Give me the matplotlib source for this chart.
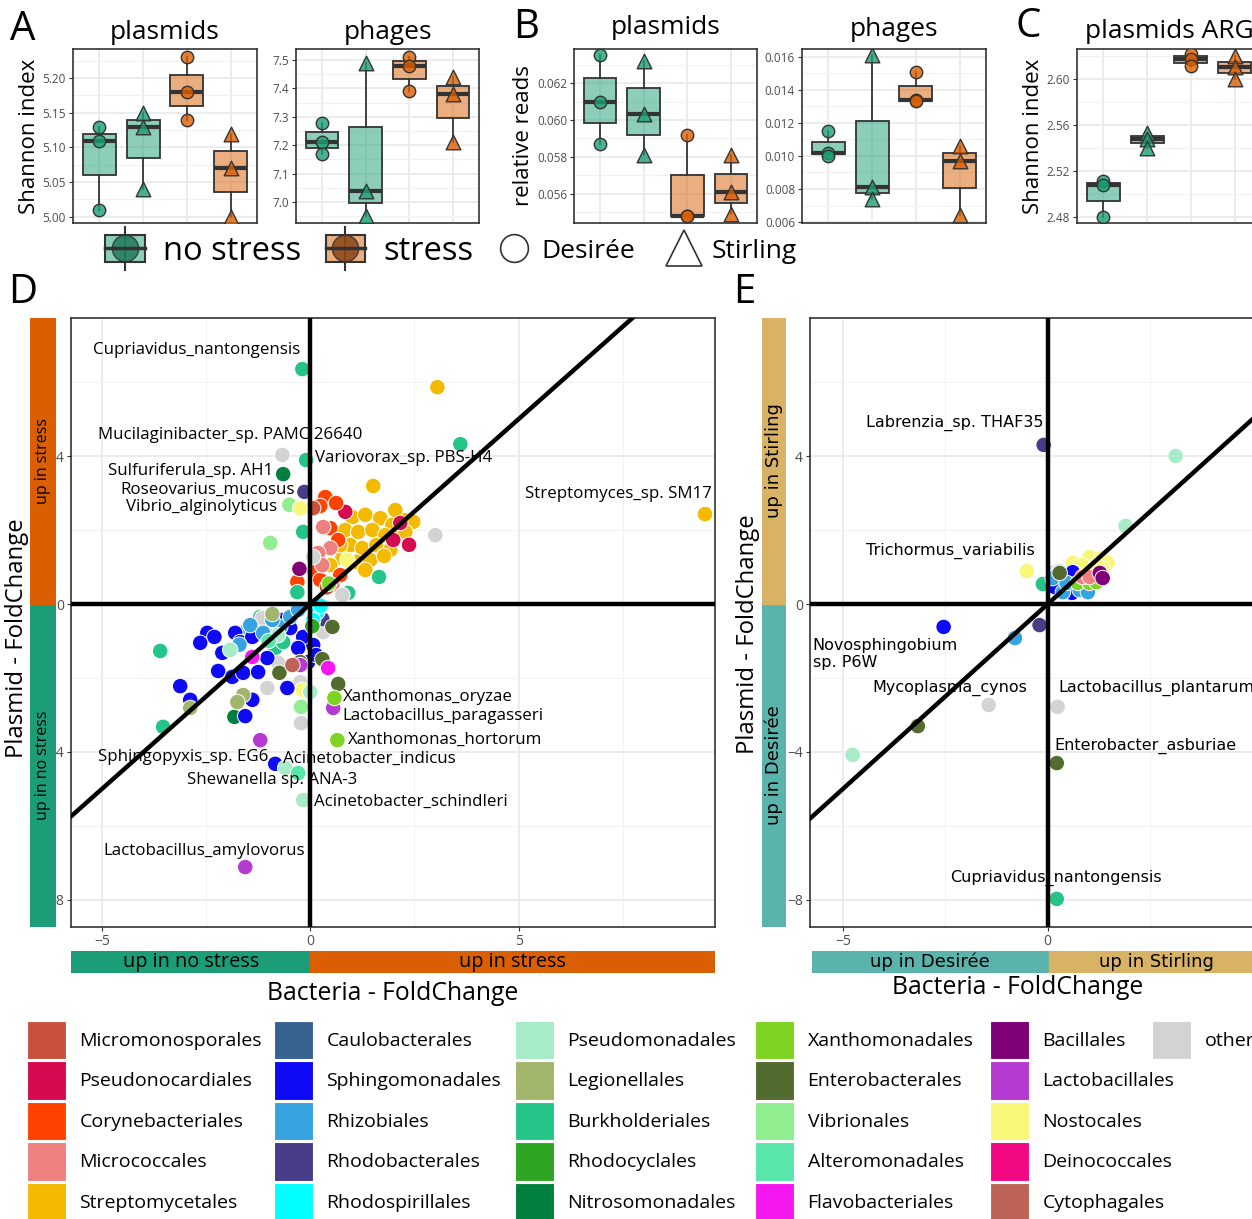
import matplotlib
matplotlib.use("Agg")
import matplotlib.pyplot as plt
from matplotlib.colors import to_rgba
from matplotlib.lines import Line2D
from matplotlib.patches import Patch, Rectangle
from matplotlib.legend_handler import HandlerBase
from matplotlib.ticker import MultipleLocator, FormatStrFormatter, FixedLocator

plt.rcParams["font.family"] = ["Open Sans", "DejaVu Sans"]

# ---------------- panels A-C : three samples per group ----------------
group_pos = [1, 2, 3, 4]
group_treat = ["no stress", "no stress", "stress", "stress"]
group_cultivar = ["Desirée", "Stirling", "Desirée", "Stirling"]

a_plasmids = [[5.13, 5.11, 5.01], [5.15, 5.13, 5.04], [5.23, 5.18, 5.14], [5.12, 5.07, 5.00]]
a_phages = [[7.28, 7.21, 7.17], [7.49, 7.04, 6.95], [7.51, 7.48, 7.39], [7.44, 7.38, 7.21]]
b_plasmids = [[0.0635, 0.0610, 0.0587], [0.0632, 0.0603, 0.0581],
              [0.0592, 0.0548, 0.0548], [0.0581, 0.0561, 0.0549]]
b_phages = [[0.0115, 0.0102, 0.0100], [0.0161, 0.0081, 0.0074],
            [0.0151, 0.0134, 0.0133], [0.0106, 0.0097, 0.0064]]
c_plasmids_arg = [[2.511, 2.508, 2.480], [2.553, 2.548, 2.540],
                  [2.622, 2.617, 2.611], [2.620, 2.610, 2.600]]

# ---------------- bacterial orders ----------------
order_names = [
    "Micromonosporales", "Pseudonocardiales", "Corynebacteriales", "Micrococcales", "Streptomycetales",
    "Caulobacterales", "Sphingomonadales", "Rhizobiales", "Rhodobacterales", "Rhodospirillales",
    "Pseudomonadales", "Legionellales", "Burkholderiales", "Rhodocyclales", "Nitrosomonadales",
    "Xanthomonadales", "Enterobacterales", "Vibrionales", "Alteromonadales", "Flavobacteriales",
    "Bacillales", "Lactobacillales", "Nostocales", "Deinococcales", "Cytophagales",
    "other",
]
order_colors = [
    "#C8513D", "#D50B52", "#FF4200", "#EF8080", "#F4BA00",
    "#376290", "#0F0AF5", "#36A2E0", "#473D88", "#00FFFF",
    "#A7EBC8", "#A2B56D", "#25C488", "#2FA524", "#007F3E",
    "#7ED323", "#526B2F", "#91EE90", "#58E6AA", "#F417F0",
    "#800078", "#B53AD1", "#F8F77A", "#F30883", "#BD6457",
    "#D3D3D3",
]

# ---------------- panel D : stress vs no stress ----------------
d_order = (["Streptomycetales"] * 27 + ["Pseudonocardiales"] * 4 + ["Corynebacteriales"] * 9
           + ["Micrococcales"] * 5 + ["Micromonosporales"] * 2 + ["Bacillales"] * 1
           + ["Burkholderiales"] * 13 + ["other"] * 10 + ["Nitrosomonadales"] * 2
           + ["Rhodobacterales"] * 2 + ["Vibrionales"] * 3 + ["Nostocales"] * 3
           + ["Rhodospirillales"] * 3 + ["Sphingomonadales"] * 26 + ["Rhizobiales"] * 7
           + ["Pseudomonadales"] * 5 + ["Alteromonadales"] * 2 + ["Legionellales"] * 4
           + ["Enterobacterales"] * 5 + ["Flavobacteriales"] * 2 + ["Lactobacillales"] * 4
           + ["Xanthomonadales"] * 3 + ["Cytophagales"] * 1 + ["Rhodocyclales"] * 1)
d_bact = [
    3.05, 1.51, 9.47, 1.01, 1.32, 1.68, 1.97, 2.25, 2.47, 0.84, 1.15, 1.49, 1.80, 2.11,
    0.96, 1.25, 1.58, 1.92, 2.28, 0.77, 1.10, 1.44, 1.77, 1.32, 0.72, 2.04, 0.48,
    0.84, 2.16, 2.37, 1.99,
    0.36, 0.62, 0.24, 0.48, 0.67, -0.31, 0.72, 0.10, 0.24,
    0.31, 0.48, 0.19, 0.29, 0.53,
    0.07, 0.40,
    -0.26,
    -0.19, 3.60, -0.10, -0.17, 1.65, -0.31, 0.91, -3.60, -3.53, -1.49, -0.84, -1.20, -0.65,
    -0.67, 3.00, 0.07, 0.77, -1.03, -0.77, -0.22, -0.24, 0.31, -1.15,
    -0.65, -1.82,
    -0.14, 0.29,
    -0.50, -0.96, -0.22,
    -0.24, -0.19, 0.89,
    0.17, 0.07, 0.25,
    -2.47, -2.30, -2.64, -2.11, -1.80, -1.68, -1.39, -3.12, -2.88, -2.21, -1.87, -1.61, -1.25,
    -1.39, -1.56, -0.55, 0.07, -0.05, -0.91, -1.03, -0.17, 0.14, -0.84, -0.48, -0.29, -0.72,
    -1.44, -1.13, -0.72, -0.48, -0.91, -0.29, -1.70,
    -1.92, -0.77, -0.60, -0.17, 0.00,
    -0.29, -1.00,
    -0.91, -1.61, -1.75, -2.88,
    0.67, 0.29, 0.53, -0.74, -0.24,
    0.43, -1.39,
    -1.56, -1.20, 0.55, -0.24,
    0.58, 0.65, 0.45,
    -0.43,
    0.05,
]
d_plasmid = [
    5.86, 3.19, 2.43, 2.35, 2.41, 2.32, 2.14, 2.27, 2.22, 2.00, 1.95, 2.00, 1.86, 1.81,
    1.59, 1.51, 1.59, 1.46, 1.95, 1.24, 1.14, 1.19, 1.30, 0.92, 1.59, 2.54, 1.05,
    2.49, 2.19, 1.60, 1.73,
    2.89, 2.73, 2.65, 2.05, 1.73, 0.60, 0.78, 0.92, 0.65,
    2.08, 1.51, 1.38, 1.05, 0.51,
    2.59, 0.45,
    0.95,
    6.35, 4.32, 3.89, 1.95, 0.73, 0.32, 0.30, -1.27, -3.32, -0.65, -1.19, -0.35, -1.03,
    4.03, 1.86, 1.27, 0.24, -2.27, -1.59, -3.22, -2.11, -0.76, -0.38,
    3.51, -3.05,
    3.03, -0.41,
    2.68, 1.65, -2.78,
    2.59, -2.32, 1.19,
    -0.22, -0.43, -0.05,
    -0.78, -0.89, -1.05, -1.32, -0.78, -1.03, -0.89, -2.22, -2.59, -1.81, -1.97, -1.86, -1.84,
    -2.59, -3.03, -2.27, -1.11, -1.57, -0.89, -1.46, -0.89, -1.38, -4.32, -0.65, -1.19, -0.43,
    -0.57, -0.78, -0.62, -0.35, -0.43, -0.16, -1.10,
    -1.24, -0.84, -4.43, -5.30, -2.38,
    -4.57, -1.00,
    -0.27, -2.46, -2.65, -2.81,
    -2.16, -1.49, -0.62, -1.86, -1.57,
    -1.73, -1.43,
    -7.11, -3.68, -2.81, -1.65,
    -2.54, -3.68, 0.55,
    -1.65,
    -0.60,
]
d_labels = ["Cupriavidus_nantongensis", "Mucilaginibacter_sp. PAMC 26640", "Variovorax_sp. PBS-H4",
            "Sulfuriferula_sp. AH1", "Roseovarius_mucosus", "Vibrio_alginolyticus",
            "Streptomyces_sp. SM17", "Xanthomonas_oryzae", "Lactobacillus_paragasseri",
            "Xanthomonas_hortorum", "Sphingopyxis_sp. EG6", "Acinetobacter_indicus",
            "Shewanella sp. ANA-3", "Acinetobacter_schindleri", "Lactobacillus_amylovorus"]
d_label_x = [-0.24, 1.25, 0.12, -0.89, -0.36, -0.79, 9.64, 0.79, 0.77, 0.91, -1.01, -0.65, -2.95, 0.10, -0.12]
d_label_y = [6.86, 4.57, 3.95, 3.59, 3.08, 2.62, 2.97, -2.51, -3.03, -3.68, -4.14, -4.19, -4.76, -5.35, -6.68]
d_label_ha = ["right", "right", "left", "right", "right", "right", "right", "left", "left",
              "left", "right", "left", "left", "left", "right"]

# ---------------- panel E : Stirling vs Desirée ----------------
e_order = (["Rhodobacterales"] * 2 + ["Pseudomonadales"] * 3 + ["Nostocales"] * 8
           + ["Burkholderiales"] * 2 + ["other"] * 5 + ["Sphingomonadales"] * 4
           + ["Rhizobiales"] * 6 + ["Xanthomonadales"] * 3 + ["Micrococcales"] * 2
           + ["Bacillales"] * 2 + ["Enterobacterales"] * 3)
e_bact = [-0.10, -0.20,
          3.12, 1.90, -4.76,
          -0.51, 0.61, 1.02, 1.32, 1.46, 1.34, 0.83, 1.19,
          -0.12, 0.22,
          0.17, 0.29, 0.41, -1.44, 0.24,
          0.17, 0.59, 0.61, -2.54,
          0.12, 0.37, 0.78, 0.98, 0.46, -0.80,
          0.73, 1.02, 1.19,
          0.85, 1.02,
          1.27, 1.34,
          0.29, -3.17, 0.22]
e_plasmid = [4.30, -0.57,
             4.00, 2.11, -4.08,
             0.89, 1.11, 1.27, 1.24, 1.11, 0.97, 1.05, 1.05,
             0.54, -7.97,
             0.86, 0.89, 0.76, -2.73, -2.78,
             0.46, 0.30, 0.86, -0.62,
             0.70, 0.32, 0.38, 0.32, 0.57, -0.92,
             0.57, 0.57, 0.59,
             0.73, 0.73,
             0.84, 0.70,
             0.84, -3.30, -4.30]
e_labels = ["Labrenzia_sp. THAF35", "Trichormus_variabilis", "Novosphingobium\nsp. P6W",
            "Mycoplasma_cynos", "Lactobacillus_plantarum", "Enterobacter_asburiae",
            "Cupriavidus_nantongensis"]
e_label_x = [-0.10, -0.32, -5.73, -0.49, 0.27, 0.17, -2.37]
e_label_y = [4.89, 1.43, -1.35, -2.27, -2.27, -3.84, -7.41]
e_label_ha = ["right", "right", "left", "right", "left", "left", "left"]

# ---------------- styling ----------------
W, H = 1252, 1219
TEAL, ORANGE = "#1b9e77", "#d95f02"
DES, STIR = "#5AB4AC", "#D8B365"
DARK = "#333333"
GRID = "#EBEBEB"
color_of = dict(zip(order_names, order_colors))

fig = plt.figure(figsize=(W / 100, H / 100), dpi=100)


def px_axes(l, t, r, b):
    return fig.add_axes([l / W, 1 - b / H, (r - l) / W, (b - t) / H])


def box_panel(ax, values, ylim, major, fmt, title, ylabel=None, title_pad=6):
    bp = ax.boxplot(values, positions=group_pos, widths=0.75, patch_artist=True,
                    showfliers=False, showcaps=False,
                    boxprops=dict(edgecolor=DARK, linewidth=1.3),
                    whiskerprops=dict(color=DARK, linewidth=1.3),
                    medianprops=dict(color=DARK, linewidth=3.0), zorder=2)
    for patch, treat in zip(bp["boxes"], group_treat):
        patch.set_facecolor(to_rgba(TEAL if treat == "no stress" else ORANGE, 0.5))
    for pos, vals, treat, cult in zip(group_pos, values, group_treat, group_cultivar):
        col = TEAL if treat == "no stress" else ORANGE
        ax.scatter([pos] * len(vals), vals, marker="o" if cult == "Desirée" else "^",
                   s=80 if cult == "Desirée" else 110, facecolor=to_rgba(col, 0.8),
                   edgecolor=DARK, linewidth=1.0, zorder=3)
    ax.set_xlim(0.4, 4.6)
    ax.set_ylim(*ylim)
    ax.set_xticks(group_pos)
    ax.set_xticklabels([])
    ax.tick_params(axis="x", length=0)
    ax.yaxis.set_major_locator(MultipleLocator(major))
    ax.yaxis.set_minor_locator(MultipleLocator(major / 2))
    ax.yaxis.set_major_formatter(FormatStrFormatter(fmt))
    ax.tick_params(axis="y", which="major", length=3, color=DARK, labelsize=8.5,
                   labelcolor="#4D4D4D", pad=2)
    ax.tick_params(axis="y", which="minor", length=0)
    ax.grid(which="major", color=GRID, linewidth=1.3)
    ax.grid(which="minor", axis="y", color="#F2F2F2", linewidth=0.8)
    ax.set_axisbelow(True)
    for s in ax.spines.values():
        s.set_color(DARK)
        s.set_linewidth(1.2)
    ax.set_title(title, fontsize=19, pad=title_pad)
    if ylabel:
        ax.set_ylabel(ylabel, fontsize=16, labelpad=2)


box_panel(px_axes(73, 49, 257, 223), a_plasmids, (4.991, 5.242), 0.05, "%.2f", "plasmids", "Shannon index", 7)
box_panel(px_axes(296, 49, 479, 223), a_phages, (6.926, 7.539), 0.1, "%.1f", "phages", None, 7)
box_panel(px_axes(574, 49, 757, 223), b_plasmids, (0.05443, 0.06384), 0.002, "%.3f", "plasmids", "relative reads", 11)
box_panel(px_axes(802, 49, 986, 223), b_phages, (0.00594, 0.01648), 0.002, "%.3f", "phages", None, 9)
box_panel(px_axes(1077, 49, 1261, 223), c_plasmids_arg, (2.4748, 2.626), 0.04, "%.2f", "plasmids ARG", "Shannon index", 8)


# legend keys for the treatment boxes
class BoxKey(HandlerBase):
    def __init__(self, face, dot):
        super().__init__()
        self.face, self.dot = face, dot

    def create_artists(self, legend, orig_handle, xdescent, ydescent, width, height, fontsize, trans):
        x0, y0 = -xdescent, -ydescent
        cx = x0 + width / 2
        whisk = Line2D([cx, cx], [y0 - 0.3 * height, y0 + 1.3 * height], color=DARK, lw=1.5, transform=trans)
        box = Rectangle((x0, y0), width, height, facecolor=self.face, edgecolor=DARK, lw=1.5, transform=trans)
        dot = Line2D([cx], [y0 + height / 2], marker="o", ms=19, mfc=self.dot, mec=DARK, alpha=0.85,
                     ls="", transform=trans)
        med = Line2D([x0, x0 + width], [y0 + height / 2] * 2, color=DARK, lw=2.5, transform=trans)
        return [whisk, box, dot, med]


h_no, h_st = Patch(), Patch()
fig.legend([h_no, h_st], ["no stress", "stress"],
           handler_map={h_no: BoxKey(to_rgba(TEAL, 0.5), "#1f7a5c"), h_st: BoxKey(to_rgba(ORANGE, 0.5), "#8a4416")},
           loc="center left", bbox_to_anchor=(105 / W, 1 - 251 / H), ncol=2, fontsize=23.5, frameon=False,
           handlelength=1.22, handleheight=0.9, handletextpad=0.55, columnspacing=0.75,
           borderpad=0, borderaxespad=0)
fig.legend([Line2D([], [], ls="", marker="o", ms=20, mfc="white", mec=DARK, mew=1.2),
            Line2D([], [], ls="", marker="^", ms=26, mfc="white", mec=DARK, mew=1.2)],
           ["Desirée", "Stirling"], loc="center left", bbox_to_anchor=(499 / W, 1 - 251 / H), ncol=2,
           fontsize=19, frameon=False, handlelength=1.1, handletextpad=0.5, columnspacing=1.3,
           borderpad=0, borderaxespad=0)


# ---------------- scatter panels ----------------
def scatter_panel(ax, bx, py, orders, xlim, ylim, labels, lx, ly, lha, label_font, label_size):
    ax.scatter(bx, py, s=125, c=[color_of[o] for o in orders], edgecolors="white",
               linewidths=0.7, zorder=3)
    for t, x, y, ha in zip(labels, lx, ly, lha):
        ax.text(x, y, t, ha=ha, va="center", fontsize=label_size, family=label_font, zorder=4)
    ax.axhline(0, color="black", lw=3.2, zorder=5)
    ax.axvline(0, color="black", lw=3.2, zorder=5)
    ax.axline((0, 0), slope=1, color="black", lw=3.2, zorder=5)
    ax.set_xlim(*xlim)
    ax.set_ylim(*ylim)
    ax.xaxis.set_major_locator(MultipleLocator(5))
    ax.xaxis.set_minor_locator(MultipleLocator(2.5))
    ax.yaxis.set_major_locator(MultipleLocator(4))
    ax.yaxis.set_minor_locator(MultipleLocator(2))
    ax.grid(which="major", color=GRID, linewidth=1.3)
    ax.grid(which="minor", color="#F2F2F2", linewidth=0.8)
    ax.set_axisbelow(True)
    ax.tick_params(which="major", length=3, color=DARK, labelsize=10, labelcolor="#4D4D4D", pad=2)
    ax.tick_params(which="minor", length=0)
    for s in ax.spines.values():
        s.set_color(DARK)
        s.set_linewidth(1.2)


def strips(yrect, xrect, xlim, ylim, low_col, high_col, low_txt, high_txt, font, ysize, xsize):
    ys = px_axes(*yrect)
    ys.set_ylim(*ylim)
    ys.axhspan(ylim[0], 0, color=low_col)
    ys.axhspan(0, ylim[1], color=high_col)
    ys.text(0.5, ylim[1] / 2, high_txt, rotation=90, ha="center", va="center", fontsize=ysize,
            family=font, transform=ys.get_yaxis_transform())
    ys.text(0.5, ylim[0] / 2, low_txt, rotation=90, ha="center", va="center", fontsize=ysize,
            family=font, transform=ys.get_yaxis_transform())
    ys.axis("off")
    xs = px_axes(*xrect)
    xs.set_xlim(*xlim)
    xs.axvspan(xlim[0], 0, color=low_col)
    xs.axvspan(0, xlim[1], color=high_col)
    xs.text(xlim[0] / 2, 0.5, low_txt, ha="center", va="center", fontsize=xsize, family=font,
            transform=xs.get_xaxis_transform())
    xs.text(xlim[1] / 2, 0.5, high_txt, ha="center", va="center", fontsize=xsize, family=font,
            transform=xs.get_xaxis_transform())
    xs.axis("off")


d_xlim, d_ylim = (-5.74, 9.71), (-8.73, 7.73)
e_xlim = (-5.8, 5.3)

axd = px_axes(71, 318, 715, 927)
scatter_panel(axd, d_bact, d_plasmid, d_order, d_xlim, d_ylim,
              d_labels, d_label_x, d_label_y, d_label_ha, ["Open Sans", "DejaVu Sans"], 12.2)
strips((30, 318, 56, 927), (71, 951, 715, 973), d_xlim, d_ylim, TEAL, ORANGE,
       "up in no stress", "up in stress", ["Open Sans", "DejaVu Sans"], 11.5, 14.3)

axe = px_axes(810, 318, 1265, 927)
scatter_panel(axe, e_bact, e_plasmid, e_order, e_xlim, d_ylim,
              e_labels, e_label_x, e_label_y, e_label_ha, ["DejaVu Sans"], 11.5)
axe.xaxis.set_major_locator(FixedLocator([-5, 0]))
strips((762, 318, 786, 927), (812, 951, 1265, 973), e_xlim, d_ylim, DES, STIR,
       "up in Desirée", "up in Stirling", ["DejaVu Sans"], 13, 13)

# axis titles
fig.text(393 / W, 1 - 993 / H, "Bacteria - FoldChange", ha="center", va="center", fontsize=17.8)
fig.text(17 / W, 1 - 638 / H, "Plasmid - FoldChange", ha="center", va="center", fontsize=17.2, rotation=90)
fig.text(1018 / W, 1 - 988 / H, "Bacteria - FoldChange", ha="center", va="center", fontsize=17.8)
fig.text(748 / W, 1 - 634 / H, "Plasmid - FoldChange", ha="center", va="center", fontsize=17.2, rotation=90)

# panel letters
for letter, lx, ly in [("A", 10, 30), ("B", 513, 28), ("C", 1016, 27), ("D", 8, 293), ("E", 733, 293)]:
    fig.text(lx / W, 1 - ly / H, letter, ha="left", va="center", fontsize=29)

# ---------------- order legend, one column per fig.legend ----------------
col_x = [27, 274, 515, 755, 990, 1152]
for c, x in enumerate(col_x):
    names = order_names[c * 5:(c + 1) * 5]
    handles = [Patch(facecolor=color_of[n], edgecolor="white", linewidth=0.8) for n in names]
    fig.legend(handles, names, loc="upper left", bbox_to_anchor=(x / W, 1 - 1021 / H),
               fontsize=14, frameon=False, handlelength=2.0, handleheight=2.64,
               handletextpad=0.7, labelspacing=0.12, borderpad=0, borderaxespad=0)

fig.savefig("out.png", dpi=100)
